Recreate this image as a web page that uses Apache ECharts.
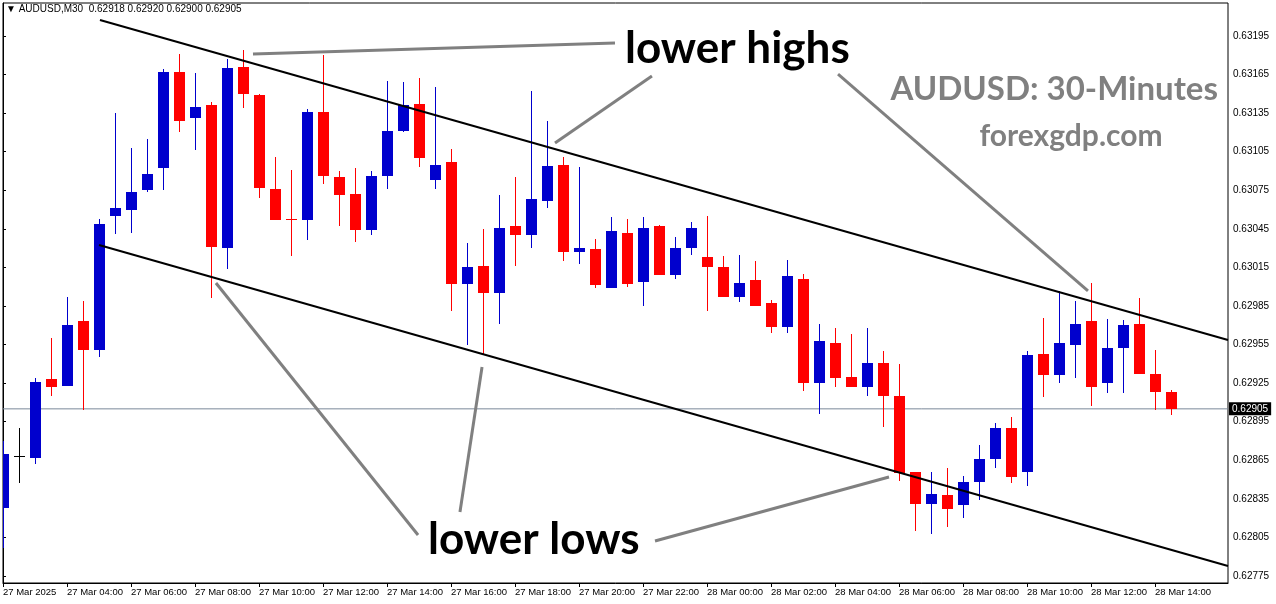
<!DOCTYPE html>
<html>
<head>
<meta charset="utf-8">
<script src="https://cdn.jsdelivr.net/npm/echarts@6/dist/echarts.min.js"></script>
<style>
html,body{margin:0;padding:0;background:#fff;}
#chart{width:1276px;height:604px;}
</style>
</head>
<body>
<div id="chart"></div>
<script>
// ---- data (AUDUSD M30, 27 Mar 02:00 -> 28 Mar 14:30) ----
const opens  = [0.62828,0.62868,0.62867,0.62928,0.62923,0.62973,0.62951,0.63055,0.63060,0.63075,
                0.63092,0.63167,0.63131,0.63141,0.63030,0.63171,0.63149,0.63076,0.63053,0.63052,
                0.63136,0.63085,0.63072,0.63044,0.63086,0.63121,0.63142,0.63083,0.63097,0.63002,
                0.63016,0.62995,0.63047,0.63040,0.63067,0.63095,0.63027,0.63029,0.62999,0.63042,
                0.63004,0.63047,0.63009,0.63030,0.63023,0.63015,0.62992,0.63005,0.62987,0.62969,
                0.63006,0.62925,0.62956,0.62930,0.62922,0.62941,0.62915,0.62856,0.62831,0.62838,
                0.62830,0.62848,0.62866,0.62890,0.62856,0.62948,0.62931,0.62955,0.62973,0.62925,
                0.62952,0.62971,0.62932,0.62918];
const closes = [0.62870,0.62868,0.62926,0.62922,0.62970,0.62951,0.63049,0.63061,0.63074,0.63088,
                0.63167,0.63129,0.63140,0.63031,0.63170,0.63150,0.63077,0.63052,0.63052,0.63136,
                0.63086,0.63071,0.63044,0.63086,0.63121,0.63141,0.63100,0.63095,0.63002,0.63015,
                0.62995,0.63046,0.63040,0.63068,0.63094,0.63027,0.63030,0.63001,0.63043,0.63002,
                0.63046,0.63009,0.63030,0.63046,0.63015,0.62992,0.63003,0.62985,0.62969,0.63008,
                0.62925,0.62958,0.62929,0.62922,0.62941,0.62915,0.62855,0.62831,0.62839,0.62827,
                0.62848,0.62866,0.62890,0.62852,0.62947,0.62931,0.62956,0.62971,0.62922,0.62952,
                0.62970,0.62932,0.62918,0.62905];
const lows   = [0.62797,0.62847,0.62862,0.62915,0.62923,0.62904,0.62945,0.63041,0.63042,0.63074,
                0.63075,0.63120,0.63106,0.62991,0.63014,0.63139,0.63069,0.63052,0.63024,0.63036,
                0.63080,0.63047,0.63035,0.63040,0.63076,0.63120,0.63093,0.63076,0.62981,0.62955,
                0.62947,0.62971,0.63016,0.63030,0.63061,0.63020,0.63018,0.62999,0.62999,0.63000,
                0.62985,0.63009,0.63006,0.63025,0.62981,0.62992,0.62988,0.62985,0.62964,0.62964,
                0.62919,0.62901,0.62922,0.62922,0.62915,0.62891,0.62849,0.62810,0.62808,0.62813,
                0.62820,0.62834,0.62859,0.62847,0.62845,0.62914,0.62925,0.62929,0.62907,0.62917,
                0.62917,0.62932,0.62904,0.62900];
const highs  = [0.62880,0.62890,0.62929,0.62960,0.62992,0.62989,0.63053,0.63135,0.63108,0.63115,
                0.63169,0.63181,0.63166,0.63144,0.63177,0.63184,0.63150,0.63101,0.63091,0.63138,
                0.63180,0.63090,0.63092,0.63090,0.63160,0.63159,0.63162,0.63155,0.63107,0.63034,
                0.63045,0.63071,0.63085,0.63152,0.63129,0.63101,0.63093,0.63037,0.63054,0.63053,
                0.63054,0.63048,0.63039,0.63050,0.63055,0.63024,0.63025,0.63020,0.62990,0.63021,
                0.63010,0.62971,0.62968,0.62963,0.62968,0.62950,0.62940,0.62856,0.62856,0.62859,
                0.62853,0.62877,0.62894,0.62899,0.62950,0.62976,0.62997,0.62989,0.63003,0.62975,
                0.62974,0.62991,0.62951,0.62920];

const xTickIdx    = [0,4,8,12,16,20,24,28,32,36,40,44,48,52,56,60,64,68,72];
const xTickLabels = ['27 Mar 2025','27 Mar 04:00','27 Mar 06:00','27 Mar 08:00','27 Mar 10:00',
                     '27 Mar 12:00','27 Mar 14:00','27 Mar 16:00','27 Mar 18:00','27 Mar 20:00',
                     '27 Mar 22:00','28 Mar 00:00','28 Mar 02:00','28 Mar 04:00','28 Mar 06:00',
                     '28 Mar 08:00','28 Mar 10:00','28 Mar 12:00','28 Mar 14:00'];
const yTickValues = [0.62775,0.62805,0.62835,0.62865,0.62895,0.62925,0.62955,0.62985,
                     0.63015,0.63045,0.63075,0.63105,0.63135,0.63165,0.63195];
const bidPrice = 0.62905;

// trend channel (index, price)
const upperChannel = [[6.06, 0.632074], [76.5625, 0.629586]];
const lowerChannel = [[6.00, 0.630324], [76.5625, 0.627828]];
// annotation pointers (index, price)
const pointers = [
  [[15.625, 0.631810], [38.25, 0.631896]],
  [[34.5, 0.631118], [40.56, 0.631639]],
  [[52.19, 0.631654], [67.81, 0.629967]],
  [[13.31, 0.630029], [25.94, 0.628069]],
  [[29.94, 0.629376], [28.56, 0.628248]],
  [[40.75, 0.628022], [55.375, 0.628520]]
];

const X_MAX = 76.5625;
const BLUE = '#0000CD', RED = '#FF0000';
const candleData = opens.map((o, i) => [i, o, closes[i], lows[i], highs[i]]);

const chart = echarts.init(document.getElementById('chart'), null, {renderer: 'canvas'});

const series = [];
// bid line (drawn under candles)
series.push({
  type: 'line', data: [[0, bidPrice], [X_MAX, bidPrice]], symbol: 'none', silent: true, z: 1,
  lineStyle: {color: '#7A8899', width: 1},
  endLabel: {show: true, distance: 1, formatter: bidPrice.toFixed(5),
             color: '#fff', backgroundColor: '#000', padding: [2, 3, 1, 3],
             fontFamily: 'Liberation Sans', fontSize: 10}
});
series.push({
  type: 'custom',
  clip: true,
  z: 2,
  data: candleData,
  encode: {x: 0, y: [1, 2, 3, 4]},
  renderItem: function (params, api) {
    const i = api.value(0), o = api.value(1), c = api.value(2), l = api.value(3), h = api.value(4);
    const pO = api.coord([i, o]), pC = api.coord([i, c]);
    const pL = api.coord([i, l]), pH = api.coord([i, h]);
    const cx = Math.round(pO[0]);
    const color = c > o ? BLUE : (c < o ? RED : '#000');
    const top = Math.round(Math.min(pO[1], pC[1]));
    const bot = Math.round(Math.max(pO[1], pC[1]));
    return {
      type: 'group',
      children: [
        {type: 'line', shape: {x1: cx + 0.5, y1: Math.round(pH[1]), x2: cx + 0.5, y2: Math.round(pL[1])},
         style: {stroke: color, lineWidth: 1}},
        {type: 'rect', shape: {x: cx - 5, y: top, width: 11, height: Math.max(bot - top, 1)},
         style: {fill: color}}
      ]
    };
  }
});
[upperChannel, lowerChannel].forEach(d => series.push({
  type: 'line', data: d, symbol: 'none', silent: true, z: 3,
  lineStyle: {color: '#000', width: 2}
}));
pointers.forEach(d => series.push({
  type: 'line', data: d, symbol: 'none', silent: true, z: 3,
  lineStyle: {color: '#808080', width: 3}
}));

chart.setOption({
  animation: false,
  grid: {left: 3, right: 48, top: 3, bottom: 21, show: true, borderColor: '#000', borderWidth: 1},
  xAxis: {
    type: 'value', min: 0, max: X_MAX,
    splitLine: {show: false},
    axisLine: {show: true, lineStyle: {color: '#000', width: 1}},
    axisTick: {show: true, length: 4, customValues: xTickIdx, lineStyle: {color: '#000'}},
    axisLabel: {
      customValues: xTickIdx, align: 'left', margin: 4,
      color: '#000', fontFamily: 'Liberation Sans', fontSize: 9.5,
      formatter: v => { const k = xTickIdx.indexOf(Math.round(v)); return k >= 0 ? xTickLabels[k] : ''; }
    }
  },
  yAxis: {
    type: 'value', position: 'right', min: 0.6276956, max: 0.6322067, scale: true,
    splitLine: {show: false},
    axisLine: {show: true, lineStyle: {color: '#000', width: 1}},
    axisTick: {show: true, length: 3, customValues: yTickValues, lineStyle: {color: '#000'}},
    axisLabel: {
      customValues: yTickValues, margin: 5,
      color: '#000', fontFamily: 'Liberation Sans', fontSize: 10,
      formatter: v => v.toFixed(5)
    }
  },
  series: series,
  graphic: [
    {type: 'text', left: 6, top: 4, z: 10,
     style: {text: '▼ AUDUSD,M30  0.62918 0.62920 0.62900 0.62905', font: '10px "Liberation Sans", "DejaVu Sans"', fill: '#000'}},
    {type: 'text', x: 625, y: 49, z: 10,
     style: {text: 'lower highs', font: 'bold 44px Lato', fill: '#000', textAlign: 'left', textVerticalAlign: 'middle'}},
    {type: 'text', x: 428, y: 540, z: 10,
     style: {text: 'lower lows', font: 'bold 44px Lato', fill: '#000', textAlign: 'left', textVerticalAlign: 'middle'}},
    {type: 'text', x: 1218, y: 89.4, z: 10,
     style: {text: 'AUDUSD: 30-Minutes', font: 'bold 33px Lato', fill: '#808080', textAlign: 'right', textVerticalAlign: 'middle'}},
    {type: 'text', x: 1071, y: 136.3, z: 10,
     style: {text: 'forexgdp.com', font: 'bold 30px Lato', fill: '#808080', textAlign: 'center', textVerticalAlign: 'middle'}}
  ]
});
</script>
</body>
</html>
